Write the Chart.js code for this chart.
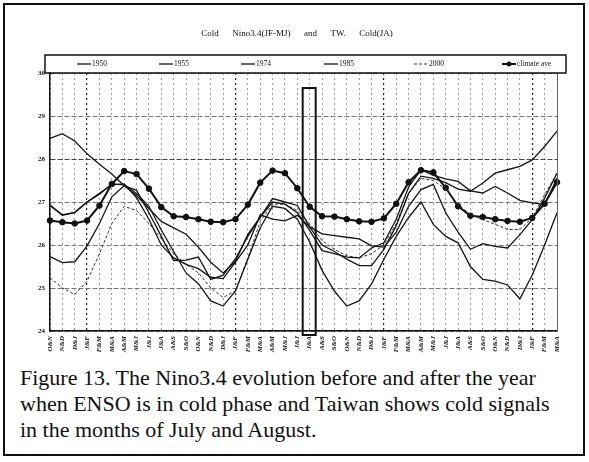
<!DOCTYPE html>
<html>
<head>
<meta charset="utf-8">
<script src="https://cdn.jsdelivr.net/npm/chart.js@4.4.0/dist/chart.umd.min.js"></script>
<style>
  html, body { margin: 0; padding: 0; background: #fff; }
  #frame { position: absolute; left: 3px; top: 3px; width: 582px; height: 453px; border: 2px solid #111; box-sizing: border-box; }
  #wrap { position: absolute; left: 0; top: 0; width: 589px; height: 365px; }
  #caption { position: absolute; left: 20px; top: 365px; width: 566px; font-family: "Liberation Serif", "Times New Roman", serif; font-size: 22px; line-height: 26px; color: #111; white-space: nowrap; }
</style>
</head>
<body>
<div id="frame"></div>
<div id="wrap"><canvas id="myChart" width="589" height="365"></canvas></div>
<div id="caption">Figure 13. The Nino3.4 evolution before and after the year<br>when ENSO is in cold phase and Taiwan shows cold signals<br>in the months of July and August.</div>
<script>
// x categories (two-month means)
var categories = ['O&N','N&D','D&J','J&F','F&M','M&A','A&M','M&J','J&J','J&A','A&S','S&O',
                  'O&N','N&D','D&J','J&F','F&M','M&A','A&M','M&J','J&J','J&A','A&S','S&O',
                  'O&N','N&D','D&J','J&F','F&M','M&A','A&M','M&J','J&J','J&A','A&S','S&O',
                  'O&N','N&D','D&J','J&F','F&M','M&A'];

var y1950 = [28.48, 28.59, 28.42, 28.12, 27.88, 27.65, 27.38, 27.15, 26.85, 26.55, 26.40, 26.25,
             25.95, 25.60, 25.35, 25.62, 26.25, 26.65, 27.00, 26.95, 26.75, 26.34, 25.87, 25.80,
             25.72, 25.70, 25.93, 26.05, 26.60, 27.35, 27.75, 27.62, 27.54, 27.48, 27.26, 27.21,
             27.36, 27.21, 27.04, 26.98, 26.94, 27.55];
var y1955 = [26.92, 26.69, 26.75, 27.00, 27.18, 27.42, 27.40, 27.20, 26.90, 26.35, 25.85, 25.35,
             25.10, 24.70, 24.58, 24.93, 25.67, 26.40, 26.90, 26.85, 26.60, 26.07, 25.41, 24.93,
             24.58, 24.70, 25.09, 25.67, 26.20, 26.64, 27.00, 26.48, 26.20, 26.05, 25.50, 25.20,
             25.16, 25.07, 24.75, 25.30, 26.00, 26.75];
var y1974 = [25.73, 25.59, 25.61, 25.98, 26.50, 27.12, 27.38, 27.27, 26.75, 26.20, 25.64, 25.65,
             25.72, 25.20, 25.30, 25.68, 26.20, 26.65, 27.08, 27.00, 26.92, 26.42, 26.00, 25.85,
             25.67, 25.52, 25.52, 25.90, 26.45, 27.20, 27.60, 27.55, 27.45, 27.30, 27.25, 27.44,
             27.67, 27.75, 27.83, 27.98, 28.29, 28.65];
var y1985 = [26.93, 26.70, 26.76, 27.00, 27.20, 27.40, 27.42, 27.10, 26.60, 26.00, 25.70, 25.55,
             25.45, 25.25, 25.22, 25.60, 26.00, 26.70, 26.60, 26.56, 26.69, 26.42, 26.26, 26.22,
             26.18, 26.14, 25.98, 25.95, 26.30, 26.90, 27.29, 27.41, 26.75, 26.30, 25.90, 26.03,
             25.97, 25.93, 26.24, 26.59, 27.09, 27.67];
var y2000 = [25.24, 25.00, 24.85, 25.16, 25.80, 26.50, 26.90, 26.80, 26.50, 26.15, 25.80, 25.55,
             25.35, 25.00, 24.78, 24.93, 25.70, 26.55, 26.95, 26.95, 26.80, 26.50, 26.10, 25.90,
             25.75, 25.70, 25.80, 26.00, 26.50, 27.20, 27.55, 27.50, 27.30, 26.94, 26.71, 26.59,
             26.48, 26.36, 26.36, 26.63, 27.17, 27.67];
var climateAve = [26.57, 26.53, 26.50, 26.57, 26.92, 27.42, 27.72, 27.65, 27.31, 26.88, 26.67, 26.65,
                  26.60, 26.54, 26.53, 26.60, 26.94, 27.45, 27.73, 27.67, 27.32, 26.89, 26.67, 26.66,
                  26.60, 26.55, 26.54, 26.62, 26.96, 27.46, 27.74, 27.69, 27.33, 26.90, 26.68, 26.65,
                  26.60, 26.56, 26.54, 26.63, 26.96, 27.46];

var yTicks = [24, 25, 26, 27, 28, 29, 30];
var highlightIndex = 21;   // J&A box

var serif = '"Liberation Serif", "Times New Roman", serif';

function solid(label, data) {
  return { label: label, data: data, borderColor: '#151515', borderWidth: 1.3,
           pointRadius: 0, tension: 0, fill: false };
}

var extras = {
  id: 'extras',
  afterDatasetsDraw: function (chart) {
    var ctx = chart.ctx, a = chart.chartArea;
    var x = chart.scales.x, y = chart.scales.y;
    ctx.save();
    // right border of plot
    ctx.strokeStyle = '#666';
    ctx.lineWidth = 1;
    ctx.beginPath();
    ctx.moveTo(a.right + 0.5, a.top);
    ctx.lineTo(a.right + 0.5, a.bottom);
    ctx.stroke();
    // highlight box around J&A
    var cx = x.getPixelForValue(highlightIndex);
    ctx.strokeStyle = '#111';
    ctx.lineWidth = 2;
    ctx.strokeRect(cx - 7, y.getPixelForValue(29.65), 13, a.bottom + 4 - y.getPixelForValue(29.65));
    ctx.restore();
  },
  afterDraw: function (chart) {
    var ctx = chart.ctx;
    var legendX = [77, 159, 241, 324, 414, 502];
    ctx.save();
    // title
    ctx.fillStyle = '#111';
    ctx.font = '9px ' + serif;
    ctx.textAlign = 'center';
    ctx.textBaseline = 'middle';
    ctx.fillText('Cold      Nino3.4(JF-MJ)      and      TW.      Cold(JA)', 297, 34);
    // legend box
    ctx.strokeStyle = '#111';
    ctx.lineWidth = 1.5;
    ctx.strokeRect(45, 55, 521, 18);
    ctx.font = '7.5px ' + serif;
    ctx.textAlign = 'left';
    chart.data.datasets.forEach(function (ds, k) {
      var lx = legendX[k], ly = 64;
      ctx.strokeStyle = ds.borderColor;
      ctx.lineWidth = ds.borderWidth;
      ctx.setLineDash(ds.borderDash || []);
      ctx.beginPath();
      ctx.moveTo(lx, ly);
      ctx.lineTo(lx + 14, ly);
      ctx.stroke();
      ctx.setLineDash([]);
      if (ds.pointRadius) {
        ctx.fillStyle = '#111';
        ctx.beginPath();
        ctx.arc(lx + 7, ly, 2.5, 0, Math.PI * 2);
        ctx.fill();
      }
      ctx.fillStyle = '#111';
      ctx.fillText(ds.label, lx + 15, ly + 0.5);
    });
    ctx.restore();
  }
};

var ctx = document.getElementById('myChart').getContext('2d');
var chart = new Chart(ctx, {
  type: 'line',
  data: {
    labels: categories,
    datasets: [
      solid('1950', y1950),
      solid('1955', y1955),
      solid('1974', y1974),
      solid('1985', y1985),
      { label: '2000', data: y2000, borderColor: '#333', borderWidth: 1, borderDash: [3, 2],
        pointRadius: 0, tension: 0, fill: false },
      { label: 'climate ave', data: climateAve, borderColor: '#111', borderWidth: 2,
        pointRadius: 2.8, pointBorderWidth: 1, pointBackgroundColor: '#111', pointBorderColor: '#111',
        tension: 0, fill: false }
    ]
  },
  options: {
    responsive: false,
    animation: false,
    layout: { padding: { left: 28, right: 32, top: 73, bottom: 4 } },
    plugins: { legend: { display: false }, title: { display: false }, tooltip: { enabled: false } },
    scales: {
      x: {
        offset: false,
        afterFit: function (s) { s.height = 30; },
        grid: {
          color: function (c) { return c.index % 12 === 3 ? '#222' : '#999'; },
          lineWidth: function (c) { return c.index % 12 === 3 ? 1.2 : 1; },
          drawTicks: false
        },
        border: { color: '#111', width: 1.5, dash: [2, 3] },
        ticks: {
          autoSkip: false, maxRotation: 90, minRotation: 90, padding: 5,
          color: '#111', font: { family: serif, size: 7, style: 'italic', weight: 'bold' }
        }
      },
      y: {
        min: 24, max: 30,
        afterFit: function (s) { s.width = 22; },
        afterBuildTicks: function (s) { s.ticks = yTicks.map(function (v) { return { value: v }; }); },
        grid: {
          color: function (c) { return c.tick && c.tick.value === 28 ? '#444' : '#777'; },
          drawTicks: false
        },
        border: { color: '#111', width: 1.5, dash: [5, 2] },
        ticks: { padding: 5, color: '#111', font: { family: serif, size: 7, weight: 'bold' } }
      }
    }
  },
  plugins: [extras]
});
</script>
</body>
</html>
